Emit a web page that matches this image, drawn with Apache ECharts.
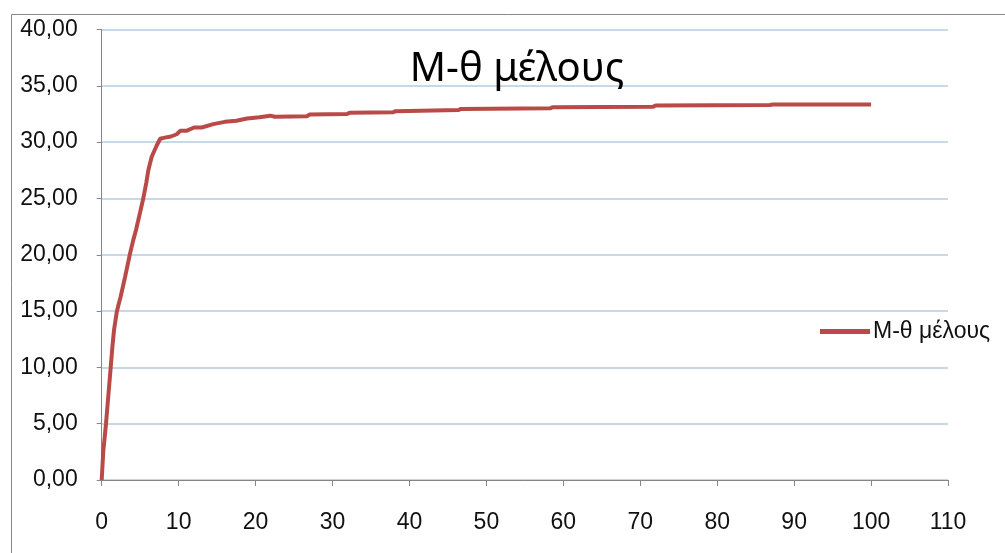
<!DOCTYPE html>
<html>
<head>
<meta charset="utf-8">
<script src="https://cdn.jsdelivr.net/npm/echarts@6/dist/echarts.min.js"></script>
<style>
html,body{margin:0;padding:0;background:#fff;}
#chart{width:1005px;height:553px;}
</style>
</head>
<body>
<div id="chart"></div>
<script>
var titleText = 'Μ-θ μέλους';
var seriesName = 'Μ-θ μέλους';
var xValues = [0, 0.2, 0.56, 0.9, 1.17, 1.4, 1.6, 1.95, 2.2, 2.47, 3.03, 3.68, 4.1, 4.46, 5.0, 5.4, 5.8, 6.06, 6.5, 7.15, 7.6, 8.2, 9.0, 9.75, 10.2, 11.0, 12.0, 13.0, 14.5, 16.0, 17.5, 18.9, 20.5, 21.9, 22.5, 26.7, 27.0, 31.9, 32.2, 37.9, 38.2, 46.4, 46.7, 58.3, 58.6, 71.7, 72.0, 86.9, 87.2, 100];
var yValues = [0, 2.5, 5.0, 7.8, 10.0, 11.9, 13.3, 14.9, 15.6, 16.3, 18.0, 20.1, 21.3, 22.2, 23.8, 25.0, 26.4, 27.5, 28.7, 29.7, 30.3, 30.4, 30.5, 30.7, 31.0, 31.0, 31.3, 31.3, 31.6, 31.8, 31.9, 32.1, 32.2, 32.35, 32.25, 32.3, 32.45, 32.5, 32.6, 32.65, 32.75, 32.85, 32.95, 33.0, 33.1, 33.15, 33.25, 33.3, 33.35, 33.35];
var xTicks = {min: 0, max: 110, interval: 10};
var yTicks = {min: 0, max: 40, interval: 5};

var data = xValues.map(function (x, i) { return [x, yValues[i]]; });
var labelFont = '"Liberation Sans", Arial, sans-serif';

var chart = echarts.init(document.getElementById('chart'));
chart.setOption({
  animation: false,
  backgroundColor: '#ffffff',
  title: {
    text: titleText,
    left: 512, textAlign: 'center',
    top: 45,
    textStyle: {fontFamily: '"Noto Sans", sans-serif', fontSize: 40, fontWeight: 'normal', color: '#000'}
  },
  graphic: [{
    type: 'rect', left: 9, top: 12, silent: true,
    shape: {width: 1100, height: 700},
    style: {fill: 'none', stroke: '#888888', lineWidth: 1}
  }],
  legend: {
    data: [seriesName],
    left: 812, top: 316,
    padding: [4, 12, 4, 8],
    backgroundColor: '#ffffff',
    itemWidth: 50, itemHeight: 5,
    icon: 'rect',
    itemStyle: {color: '#b94a47'},
    textStyle: {fontFamily: labelFont, fontSize: 23, color: '#111', padding: [0,0,0,-2]}
  },
  grid: {left: 101.7, right: 57, top: 29.5, bottom: 73, containLabel: false},
  xAxis: {
    type: 'value', min: xTicks.min, max: xTicks.max, interval: xTicks.interval,
    axisLine: {show: true, onZero: false, lineStyle: {color: '#868686', width: 1}},
    axisTick: {show: true, length: 6, lineStyle: {color: '#868686'}},
    axisLabel: {margin: 31, fontFamily: labelFont, fontSize: 23, color: '#111'},
    splitLine: {show: false}
  },
  yAxis: {
    type: 'value', min: yTicks.min, max: yTicks.max, interval: yTicks.interval,
    axisLine: {show: true, onZero: false, lineStyle: {color: '#868686', width: 1}},
    axisTick: {show: true, length: 5, lineStyle: {color: '#868686'}},
    axisLabel: {margin: 24, fontFamily: labelFont, fontSize: 23, color: '#111',
      formatter: function (v) { return v.toFixed(2).replace('.', ','); }},
    splitLine: {show: true, lineStyle: {color: '#b3cde0', width: 1.5}}
  },
  series: [{
    name: seriesName,
    type: 'line',
    data: data,
    showSymbol: false,
    smooth: false,
    lineStyle: {color: '#b94a47', width: 4},
    itemStyle: {color: '#b94a47'}
  }]
});
</script>
</body>
</html>
